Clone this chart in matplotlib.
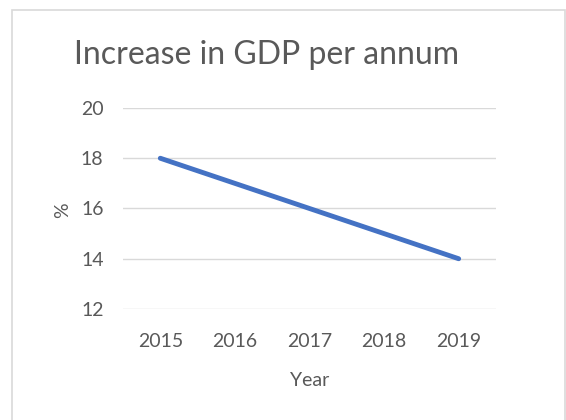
import matplotlib.pyplot as plt
from matplotlib.patches import Rectangle

years = ['2015', '2016', '2017', '2018', '2019']
gdp_growth = [18, 17, 16, 15, 14]
y_ticks = [12, 14, 16, 18, 20]

text_col = '#595959'
plt.rcParams['font.family'] = ['Lato', 'DejaVu Sans']

fig = plt.figure(figsize=(5.66, 4.2), dpi=100)
ax = fig.add_axes([0.2173, 0.2643, 0.659, 0.4786])

# light chart frame
fig.patches.append(Rectangle((12 / 566, -0.1), 553 / 566, 1.1 - 10 / 420,
                             transform=fig.transFigure, fill=False,
                             edgecolor='#d9d9d9', linewidth=1.2))

x = range(len(years))
ax.plot(x, gdp_growth, color='#4472C4', linewidth=3.5, solid_capstyle='round')

ax.set_xlim(-0.5, len(years) - 0.5)
ax.set_ylim(12, 20)
ax.set_yticks(y_ticks)
ax.set_xticks(list(x))
ax.set_xticklabels(years)
ax.grid(axis='y', color='#d9d9d9', linewidth=1)
ax.set_axisbelow(True)
for s in ax.spines.values():
    s.set_visible(False)
ax.tick_params(length=0, labelsize=14, colors=text_col)
ax.tick_params(axis='y', pad=14)
ax.tick_params(axis='x', pad=17)
for lab in ax.get_xticklabels() + ax.get_yticklabels():
    lab.set_color(text_col)

fig.text(63 / 566, 1 - 210 / 420, '%', rotation=90, ha='center', va='center',
         fontsize=14, color=text_col)
fig.text(310 / 566, 1 - 381 / 420, 'Year', ha='center', va='center',
         fontsize=14, color=text_col)
fig.text(267 / 566, 1 - 55 / 420, 'Increase in GDP per annum', ha='center',
         va='center', fontsize=23, color=text_col)

fig.savefig('out.png', dpi=100)
